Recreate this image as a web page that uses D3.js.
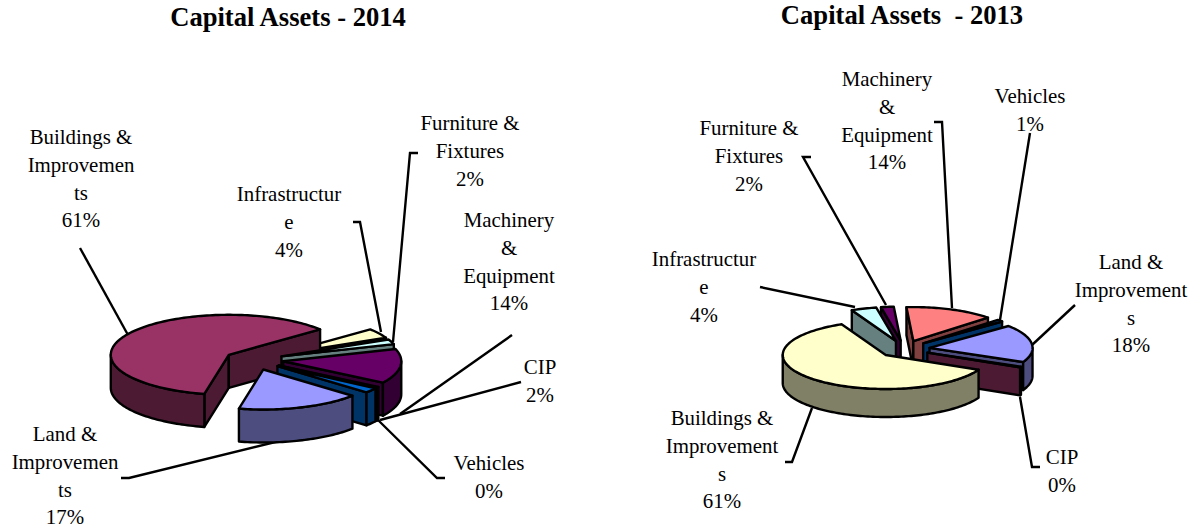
<!DOCTYPE html>
<html>

<head>
    <meta charset="utf-8">

    <!-- Load d3.js -->
    <script src="https://d3js.org/d3.v7.min.js"></script>

    <style>
        body {
            margin: 0;
            background: #fff;
        }

        svg text {
            font-family: "Liberation Serif", serif;
            font-size: 20.9px;
            fill: #000;
            text-anchor: middle;
            white-space: pre;
        }

        svg text.title {
            font-size: 26.6px;
            font-weight: bold;
        }
    </style>
</head>

<body>
    <div id="my_dataviz"></div>

    <script>
        // data
        const categories2014 = ["Land & Improvements", "Buildings & Improvements", "Infrastructure", "Furniture & Fixtures", "Machinery & Equipment", "Vehicles", "CIP"];
        const values2014 = [17, 61, 4, 2, 14, 0.4, 2];
        const colors2014 = ["#9999ff", "#993366", "#ffffcc", "#ccffff", "#660066", "#ff8080", "#0066cc"];
        const labelLines2014 = [
            ["Land &", "Improvemen", "ts"],
            ["Buildings &", "Improvemen", "ts"],
            ["Infrastructur", "e"],
            ["Furniture &", "Fixtures"],
            ["Machinery", "&", "Equipment"],
            ["Vehicles"],
            ["CIP"]
        ];

        const categories2013 = ["Land & Improvements", "CIP", "Buildings & Improvements", "Infrastructure", "Furniture & Fixtures", "Machinery & Equipment", "Vehicles"];
        const values2013 = [18, 0.3, 61, 4, 2, 14, 1];
        const colors2013 = ["#9999ff", "#993366", "#ffffcc", "#ccffff", "#660066", "#ff8080", "#0066cc"];
        const labelLines2013 = [
            ["Land &", "Improvement", "s"],
            ["CIP"],
            ["Buildings &", "Improvement", "s"],
            ["Infrastructur", "e"],
            ["Furniture &", "Fixtures"],
            ["Machinery", "&", "Equipment"],
            ["Vehicles"]
        ];

        // layout of the two pies: label centre x, first line y, leader line
        const layout2014 = {
            title: "Capital Assets - 2014", titleX: 288, titleY: 26,
            cx: 254, cy: 360, rx: 118, ry: 40, depth: 33, explode: 0.25, start: 131,
            labels: [[65, 441], [81, 144], [289, 201], [470, 130], [509, 227], [489, 470], [540, 374]],
            leaders: [
                [[121, 478], [129, 478], [300, 436]],
                [[80, 248], [128, 335]],
                [[353, 222], [360, 222], [381, 332]],
                [[418, 153], [410, 153], [393, 342]],
                [[512, 335], [400, 414]],
                [[445, 478], [437, 478], [378, 420]],
                [[521, 382], [380, 420]]
            ]
        };
        const layout2013 = {
            title: "Capital Assets  - 2013", titleX: 902, titleY: 24,
            cx: 904, cy: 349, rx: 103, ry: 34, depth: 28, explode: 0.25, start: 50,
            labels: [[1131, 269], [1062, 464], [722, 425], [704, 266], [749, 135], [887, 86], [1030, 103]],
            leaders: [
                [[1075, 305], [1032, 345]],
                [[1040, 467], [1032, 467], [1020, 397]],
                [[785, 462], [792, 462], [812, 408]],
                [[760, 287], [855, 307]],
                [[811, 157], [803, 157], [886, 305]],
                [[934, 122], [942, 122], [952, 308]],
                [[1030, 133], [1000, 320]]
            ]
        };

        const svg = d3.select("#my_dataviz")
            .append("svg")
            .attr("width", 1195)
            .attr("height", 529);

        const lineGen = d3.line();

        function drawPie(values, colors, lines, cfg) {
            const rad = cfg.start * Math.PI / 180;
            const total = d3.sum(values);
            const arcs = d3.pie().sort(null).startAngle(rad).endAngle(rad + 2 * Math.PI)(values);

            // the pie is an ellipse on screen
            const x = d3.scaleLinear().domain([-1, 1]).range([cfg.cx - cfg.rx, cfg.cx + cfg.rx]);
            const y = d3.scaleLinear().domain([-1, 1]).range([cfg.cy + cfg.ry, cfg.cy - cfg.ry]);

            const g = svg.append("g");

            // title
            g.append("text").attr("class", "title")
                .attr("x", cfg.titleX).attr("y", cfg.titleY).text(cfg.title);

            // leader lines go under the slices
            g.selectAll("path.leader")
                .data(cfg.leaders)
                .join("path")
                .attr("class", "leader")
                .attr("d", d => lineGen(d))
                .attr("fill", "none")
                .attr("stroke", "#000")
                .attr("stroke-width", 2.4);

            // labels
            arcs.forEach((a, i) => {
                const pct = Math.round(a.value / total * 100) + "%";
                const t = g.append("text");
                lines[i].concat([pct]).forEach((s, k) => {
                    t.append("tspan")
                        .attr("x", cfg.labels[i][0])
                        .attr("y", cfg.labels[i][1] + k * 27.8)
                        .text(s);
                });
            });

            // back to front
            const slices = arcs.map((a, i) => {
                const mid = (a.startAngle + a.endAngle) / 2;
                const ox = cfg.explode * Math.sin(mid);
                const oy = cfg.explode * Math.cos(mid);
                return { a, color: colors[i], ox, oy };
            }).sort((p, q) => q.oy - p.oy);

            slices.forEach(s => {
                const px = (t, r) => x(r * Math.sin(t) + s.ox);
                const py = (t, r) => y(r * Math.cos(t) + s.oy);
                const side = d3.interpolateRgb(s.color, "#000")(0.5);
                const t0 = s.a.startAngle, t1 = s.a.endAngle;

                const rim = (from, to) => {
                    const n = Math.max(2, Math.ceil((to - from) * 40));
                    return d3.range(n + 1).map(k => {
                        const t = from + (to - from) * k / n;
                        return [px(t, 1), py(t, 1)];
                    });
                };
                const shape = (d, fill) => g.append("path")
                    .attr("d", d)
                    .attr("fill", fill)
                    .attr("stroke", "#000")
                    .attr("stroke-width", 2.4)
                    .attr("stroke-linejoin", "round");

                // radial walls, the ones facing away stay hidden
                const wall = t => shape(lineGen([
                    [px(t, 0), py(t, 0)],
                    [px(t, 1), py(t, 1)],
                    [px(t, 1), py(t, 1) + cfg.depth],
                    [px(t, 0), py(t, 0) + cfg.depth]
                ]) + "Z", side);
                if (Math.sin(t0) < 0) wall(t0);
                if (Math.sin(t1) > 0) wall(t1);

                // outer wall, only on the front half of the ellipse
                [0, 1].forEach(k => {
                    const from = Math.max(t0, Math.PI / 2 + 2 * Math.PI * k);
                    const to = Math.min(t1, 3 * Math.PI / 2 + 2 * Math.PI * k);
                    if (to <= from) return;
                    const top = rim(from, to);
                    const bottom = top.map(p => [p[0], p[1] + cfg.depth]).reverse();
                    shape(lineGen(top.concat(bottom)) + "Z", side);
                });

                // top face
                shape(lineGen([[px(t0, 0), py(t0, 0)]].concat(rim(t0, t1))) + "Z", s.color);
            });
        }

        drawPie(values2014, colors2014, labelLines2014, layout2014);
        drawPie(values2013, colors2013, labelLines2013, layout2013);
    </script>
</body>

</html>
